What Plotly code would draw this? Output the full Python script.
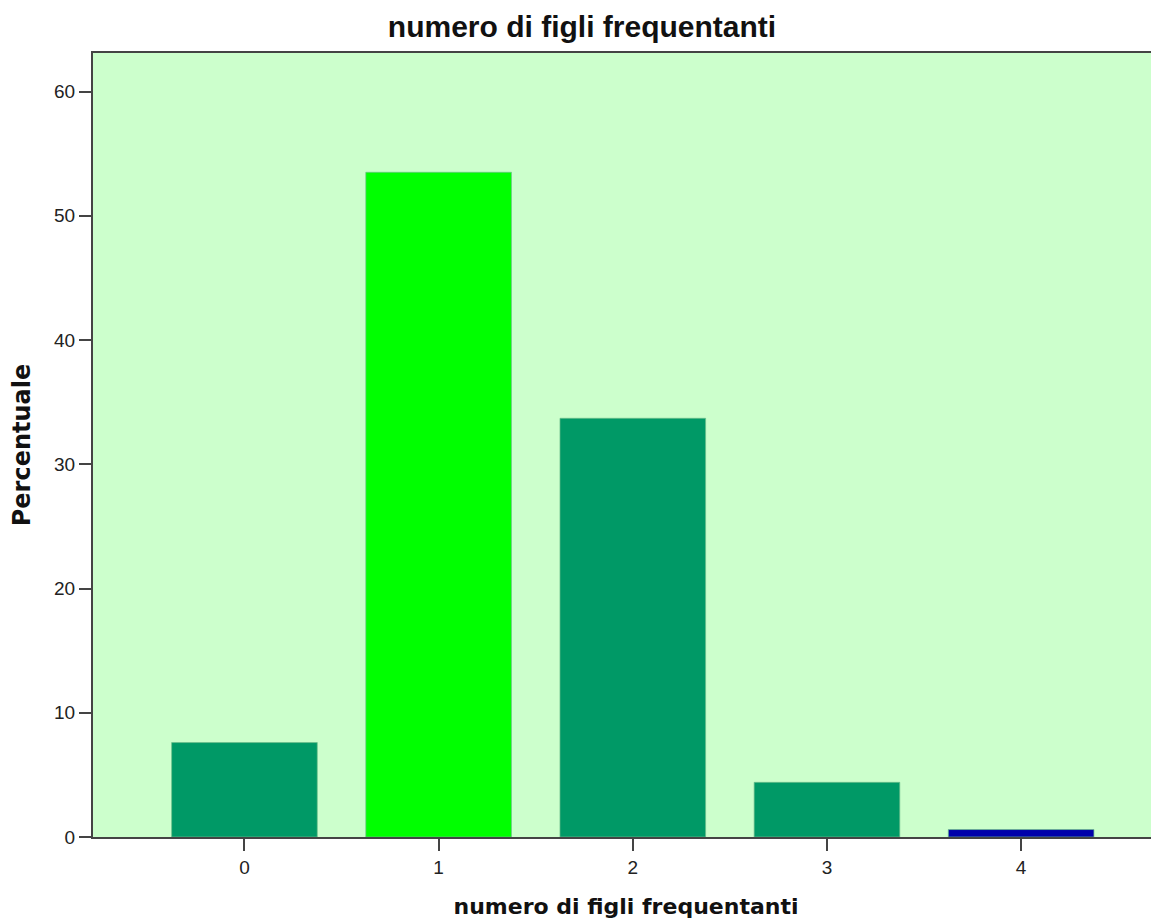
import plotly.graph_objects as go

categories = ["0", "1", "2", "3", "4"]
percent = [7.6, 53.5, 33.7, 4.4, 0.6]
bar_colors = ["#009966", "#00FF00", "#009966", "#009966", "#0000AA"]
y_ticks = [0, 10, 20, 30, 40, 50, 60]

W, H = 1151, 915  # page has an 8px body margin

fig = go.Figure()
fig.add_trace(go.Bar(
    x=list(range(len(categories))),
    y=percent,
    width=0.75,
    marker=dict(color=bar_colors, line=dict(color="rgba(110,190,140,0.7)", width=1)),
))

fig.update_layout(
    width=W, height=H,
    margin=dict(l=85, r=0, t=45, b=86),
    paper_bgcolor="white",
    plot_bgcolor="#CCFFCC",
    showlegend=False,
    font=dict(family="Liberation Sans, Arial, sans-serif", color="#222"),
    title=dict(text="<b>numero di figli frequentanti</b>", x=(582 - 8) / W, xanchor="center",
               y=1 - 18 / H, yanchor="middle",
               font=dict(family="Liberation Sans, Arial, sans-serif", size=30, color="#111")),
)
fig.update_xaxes(
    range=[-0.78, 4.71],
    tickmode="array", tickvals=list(range(len(categories))), ticktext=categories,
    ticks="outside", ticklen=12, tickwidth=2, tickcolor="#444",
    showline=True, linecolor="#444", linewidth=2, mirror=True,
    showgrid=False, zeroline=False,
    tickfont=dict(size=19, color="#222"),
    title=dict(text="<b>numero di figli frequentanti</b>",
               font=dict(family="DejaVu Sans, Verdana, sans-serif", size=22, color="#111"), standoff=22),
)
fig.update_yaxes(
    range=[0, 63.1],
    tickmode="array", tickvals=y_ticks,
    ticks="outside", ticklen=12, tickwidth=2, tickcolor="#444",
    showline=True, linecolor="#444", linewidth=2, mirror=False,
    showgrid=False, zeroline=False,
    tickfont=dict(size=19, color="#222"),
    title=dict(text="<b>Percentuale</b>",
               font=dict(family="DejaVu Sans, Verdana, sans-serif", size=24, color="#111"), standoff=19),
)

fig.write_html("out.html")
